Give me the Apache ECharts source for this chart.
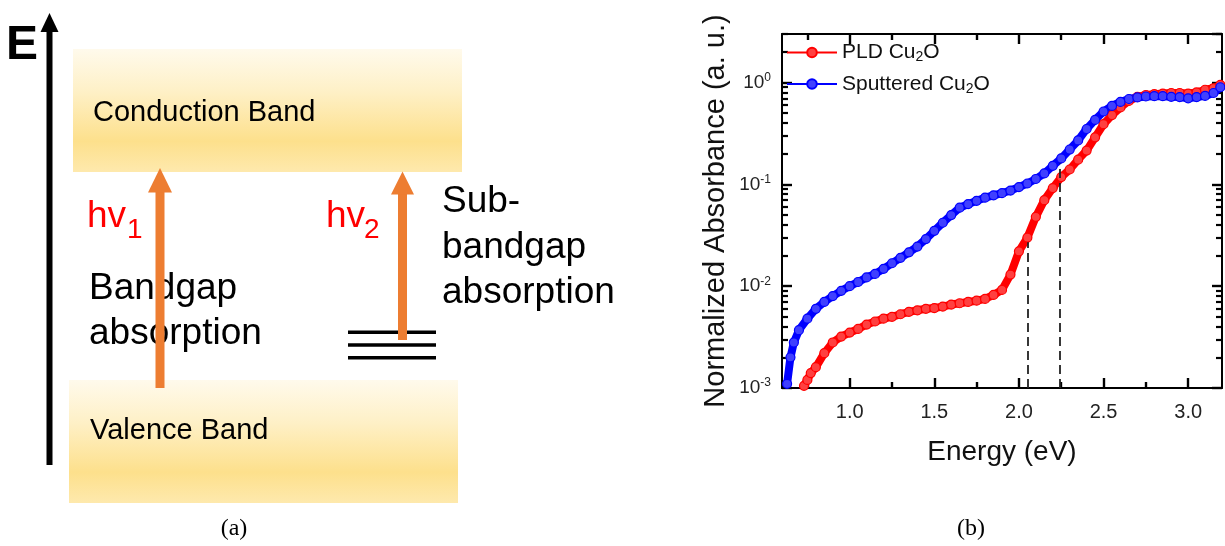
<!DOCTYPE html>
<html>
<head>
<meta charset="utf-8">
<title>Cu2O absorption</title>
<script src="https://cdn.jsdelivr.net/npm/echarts@6/dist/echarts.min.js"></script>
<style>
html, body { margin: 0; padding: 0; background: #fff; }
#main { width: 1225px; height: 546px; }
</style>
</head>
<body>
<div id="main"></div>
<script>
// values
const seriesNames = ['PLD Cu2O', 'Sputtered Cu2O'];

const energyPLD = [0.73, 0.75, 0.77, 0.80, 0.85, 0.90, 0.95, 1.00, 1.05, 1.10, 1.15, 1.20, 1.25, 1.30,
    1.35, 1.40, 1.45, 1.50, 1.55, 1.60, 1.65, 1.70, 1.75, 1.80, 1.85, 1.90, 1.95, 2.00, 2.05, 2.10,
    2.15, 2.20, 2.25, 2.30, 2.35, 2.40, 2.45, 2.50, 2.55, 2.60, 2.65, 2.70, 2.75, 2.80, 2.85, 2.90,
    2.95, 3.00, 3.05, 3.10, 3.15, 3.19];
const absPLD = [0.00105, 0.0012, 0.0014, 0.0016, 0.0022, 0.0028, 0.0032, 0.0035, 0.0038, 0.0042, 0.0045,
    0.0048, 0.0050, 0.0053, 0.0056, 0.0058, 0.0060, 0.0061, 0.0063, 0.0066, 0.0068, 0.0070, 0.0072,
    0.0075, 0.0082, 0.0092, 0.0130, 0.0220, 0.0300, 0.0480, 0.0700, 0.0920, 0.1180, 0.1400, 0.1750,
    0.2150, 0.2900, 0.3900, 0.4800, 0.5700, 0.6600, 0.7250, 0.7550, 0.7700, 0.7800, 0.7900, 0.7900,
    0.7800, 0.8000, 0.8500, 0.8800, 0.9500];

const energySput = [0.63, 0.65, 0.67, 0.70, 0.75, 0.80, 0.85, 0.90, 0.95, 1.00, 1.05, 1.10, 1.15, 1.20,
    1.25, 1.30, 1.35, 1.40, 1.45, 1.50, 1.55, 1.60, 1.65, 1.70, 1.75, 1.80, 1.85, 1.90, 1.95, 2.00,
    2.05, 2.10, 2.15, 2.20, 2.25, 2.30, 2.35, 2.40, 2.45, 2.50, 2.55, 2.60, 2.65, 2.70, 2.75, 2.80,
    2.85, 2.90, 2.95, 3.00, 3.05, 3.10, 3.15, 3.19];
const absSput = [0.0011, 0.0020, 0.0028, 0.0037, 0.0048, 0.0060, 0.0070, 0.0080, 0.0090, 0.0100, 0.0110,
    0.0122, 0.0132, 0.0148, 0.0168, 0.0190, 0.0215, 0.0245, 0.0290, 0.0350, 0.0420, 0.0500, 0.0590,
    0.0640, 0.0690, 0.0740, 0.0780, 0.0820, 0.0870, 0.0940, 0.1020, 0.1130, 0.1280, 0.1520, 0.1800,
    0.2200, 0.2700, 0.3500, 0.4300, 0.5200, 0.5900, 0.6450, 0.6900, 0.7150, 0.7300, 0.7350, 0.7350,
    0.7250, 0.7200, 0.7000, 0.7200, 0.7400, 0.7900, 0.9000];

// vertical dashed guides (energy, top value)
const dashE = [2.05, 2.24];
const dashTop = [0.027, 0.16];

const xTicks = [1.0, 1.5, 2.0, 2.5, 3.0];
const xMinorTicks = [0.75, 1.25, 1.75, 2.25, 2.75];
const yDecades = [0.001, 0.01, 0.1, 1];
const yMinorMantissa = [2, 3, 4, 5, 6, 7, 8, 9];

const X_MIN = 0.6, X_MAX = 3.2, Y_MIN = 0.001, Y_MAX = 3;

// minor log ticks go on a plain linear axis that spans log10 of the range
let yMinorLog = [];
yDecades.forEach(d => {
    yMinorMantissa.forEach(m => {
        if (m * d <= Y_MAX) yMinorLog.push(Math.log10(m * d));
    });
});

const FONT = '"Liberation Sans", Arial, sans-serif';
const orange = '#ed7d31';

function stroke(w) {
    return { color: '#000', width: w || 2 };
}

function bandFill() {
    return {
        type: 'linear', x: 0, y: 0, x2: 0, y2: 1,
        colorStops: [
            { offset: 0, color: '#fffaec' },
            { offset: 0.35, color: '#fef0c6' },
            { offset: 0.75, color: '#fde08c' },
            { offset: 1, color: '#fee9ad' }
        ]
    };
}

function txt(text, x, y, size, color, extra) {
    return {
        type: 'text',
        style: Object.assign({
            text: text, x: x, y: y,
            font: size + 'px ' + FONT,
            fill: color || '#000',
            align: 'left', textAlign: 'left',
            verticalAlign: 'middle', textVerticalAlign: 'middle'
        }, extra || {})
    };
}

function hline(x1, x2, y, color, w) {
    return { type: 'line', shape: { x1: x1, y1: y, x2: x2, y2: y }, style: { stroke: color, lineWidth: w } };
}

function vline(x, y1, y2, color, w) {
    return { type: 'line', shape: { x1: x, y1: y1, x2: x, y2: y2 }, style: { stroke: color, lineWidth: w } };
}

function xAxisOf(pos, ticks, len, main) {
    return {
        type: 'value', min: X_MIN, max: X_MAX, position: pos,
        axisLine: { show: main, onZero: false, lineStyle: stroke() },
        axisTick: { show: true, inside: true, length: len, lineStyle: stroke(2.4), customValues: ticks },
        axisLabel: { show: false },
        splitLine: { show: false }
    };
}

function yMinorAxis(pos) {
    return {
        type: 'value', min: -3, max: Math.log10(Y_MAX), position: pos,
        axisLine: { show: false, onZero: false },
        axisTick: { show: true, inside: true, length: 6, lineStyle: stroke(2.2), customValues: yMinorLog },
        axisLabel: { show: false },
        splitLine: { show: false }
    };
}

function yLogAxis(pos) {
    return {
        type: 'log', logBase: 10, min: Y_MIN, max: Y_MAX, position: pos,
        axisLine: { show: true, onZero: false, lineStyle: stroke() },
        axisTick: { show: true, inside: true, length: 10, lineStyle: stroke(2.4) },
        axisLabel: { show: false },
        splitLine: { show: false }
    };
}

let xBottom = xAxisOf('bottom', xTicks, 10, true);
xBottom.name = 'Energy (eV)';
xBottom.nameLocation = 'middle';
xBottom.nameGap = 50;
xBottom.nameTextStyle = { fontSize: 28, color: '#111', fontFamily: FONT };
xBottom.axisLabel = {
    show: true, customValues: xTicks, margin: 14,
    fontSize: 20, color: '#222', fontFamily: FONT,
    formatter: v => Number(v).toFixed(1)
};

let yLeft = yLogAxis('left');
yLeft.name = 'Normalized Absorbance (a. u.)';
yLeft.nameLocation = 'middle';
yLeft.nameGap = 52;
yLeft.nameTextStyle = { fontSize: 29, color: '#111', fontFamily: FONT };
yLeft.axisLabel = {
    show: true, margin: 11, showMaxLabel: false,
    formatter: v => '{b|10}{e|' + Math.round(Math.log10(v)) + '}',
    rich: {
        b: { fontSize: 19, color: '#222', fontFamily: FONT },
        e: { fontSize: 12, color: '#222', fontFamily: FONT, padding: [0, 0, 10, 0] }
    }
};

function pairs(xs, ys) {
    return xs.map((x, i) => [x, ys[i]]);
}

let chartDom = document.getElementById('main');
let myChart = echarts.init(chartDom);
let option;

option = {
    animation: false,
    textStyle: { fontFamily: FONT },
    grid: { left: 782, right: 3, top: 34, bottom: 158 },
    legend: {
        orient: 'vertical', left: 786, top: 42, padding: 0,
        itemWidth: 50, itemHeight: 12, itemGap: 9,
        data: seriesNames,
        formatter: name => '{t|' + name.replace('Cu2O', 'Cu') + '}{s|2}{t|O}',
        textStyle: {
            fontSize: 21, color: '#111',
            rich: {
                t: { fontSize: 21, color: '#111', fontFamily: FONT },
                s: { fontSize: 14, color: '#111', fontFamily: FONT, padding: [10, 0, 0, 0] }
            }
        }
    },
    xAxis: [
        xBottom,
        xAxisOf('bottom', xMinorTicks, 6, false),
        xAxisOf('top', xTicks, 10, true),
        xAxisOf('top', xMinorTicks, 6, false)
    ],
    yAxis: [
        yLeft,
        yMinorAxis('left'),
        yLogAxis('right'),
        yMinorAxis('right')
    ],
    series: [
        {
            name: seriesNames[0],
            type: 'line',
            xAxisIndex: 0, yAxisIndex: 0,
            data: pairs(energyPLD, absPLD),
            symbol: 'circle', symbolSize: 9, showAllSymbol: true,
            lineStyle: { color: '#ff0000', width: 8 },
            itemStyle: { color: '#ff4040', borderColor: '#ff0000', borderWidth: 1.2 },
            markLine: {
                silent: true, symbol: ['none', 'none'], label: { show: false },
                lineStyle: { color: '#222', type: [9, 5], width: 1.8 },
                data: dashE.map((e, i) => [{ coord: [e, Y_MIN] }, { coord: [e, dashTop[i]] }])
            }
        },
        {
            name: seriesNames[1],
            type: 'line',
            xAxisIndex: 0, yAxisIndex: 0,
            data: pairs(energySput, absSput),
            symbol: 'circle', symbolSize: 9, showAllSymbol: true,
            lineStyle: { color: '#0000ff', width: 8 },
            itemStyle: { color: '#4040ff', borderColor: '#0000ff', borderWidth: 1.2 }
        }
    ],
    // panel (a): band diagram
    graphic: [
        { type: 'rect', shape: { x: 73, y: 49, width: 389, height: 123 }, style: { fill: bandFill() } },
        { type: 'rect', shape: { x: 69, y: 380, width: 389, height: 123 }, style: { fill: bandFill() } },
        txt('Conduction Band', 93, 112.5, 29),
        txt('Valence Band', 90, 430.5, 29),
        vline(49.5, 465, 30, '#000', 6),
        { type: 'polygon', shape: { points: [[40.5, 32], [58.5, 32], [49.5, 13]] }, style: { fill: '#000' } },
        txt('E', 6, 46, 48, '#000', { font: 'bold 48px ' + FONT }),
        txt('hv', 87, 216.8, 37, '#ff0000'),
        txt('1', 127, 230.3, 28, '#ff0000'),
        txt('hv', 326, 216.8, 37, '#ff0000'),
        txt('2', 364, 230.3, 28, '#ff0000'),
        txt('Bandgap', 89, 288.5, 37),
        txt('absorption', 89, 333.5, 37),
        txt('Sub-', 442, 202, 37),
        txt('bandgap', 442, 247.5, 37),
        txt('absorption', 442, 292.5, 37),
        hline(348, 436, 332.3, '#000', 3.4),
        hline(348, 436, 345, '#000', 3.4),
        hline(348, 436, 357.7, '#000', 3.4),
        vline(160, 388, 188, orange, 9),
        { type: 'polygon', shape: { points: [[148, 192.5], [172, 192.5], [160, 168]] }, style: { fill: orange } },
        vline(402.5, 340, 190, orange, 9),
        { type: 'polygon', shape: { points: [[391, 194.5], [414, 194.5], [402.5, 171.5]] }, style: { fill: orange } },
        txt('(a)', 234, 529, 24, '#000', { font: '24px "Liberation Serif", "Times New Roman", serif', align: 'center', textAlign: 'center' }),
        txt('(b)', 971, 529, 24, '#000', { font: '24px "Liberation Serif", "Times New Roman", serif', align: 'center', textAlign: 'center' })
    ]
};

option && myChart.setOption(option);
</script>
</body>
</html>
